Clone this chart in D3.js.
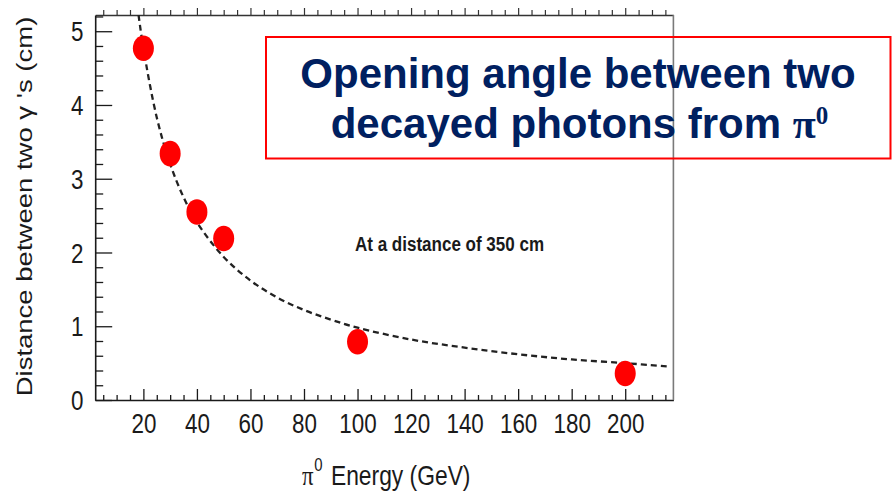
<!DOCTYPE html>
<html>
<head>
<meta charset="utf-8">
<script src="https://cdn.jsdelivr.net/npm/d3@7"></script>
<style>
  html, body { margin: 0; padding: 0; background: #fff; }
  svg { display: block; font-family: "Liberation Sans", Arial, sans-serif; }
</style>
</head>
<body>
<svg id="chart" width="895" height="491"></svg>
<script>
// Measured pi0 photon separations at 350 cm
const energies = [20, 30, 40, 50, 100, 200];
const distances = [4.77, 3.34, 2.55, 2.19, 0.79, 0.36];

// Fitted curve, sampled along the energy range
const fitEnergy = [18.2, 20, 25, 30, 35, 40, 50, 60, 70, 80, 90, 100, 120, 140, 160, 180, 200, 215.5];
const fitDistance = [5.22, 4.77, 3.83, 3.20, 2.75, 2.41, 1.94, 1.62, 1.39, 1.22, 1.09, 0.98, 0.82, 0.71, 0.62, 0.55, 0.50, 0.455];

// Axis ticks
const xMajorTicks = [20, 40, 60, 80, 100, 120, 140, 160, 180, 200];
const xMinorTicks = [5, 10, 15, 25, 30, 35, 45, 50, 55, 65, 70, 75, 85, 90, 95, 105, 110, 115, 125, 130, 135, 145, 150, 155, 165, 170, 175, 185, 190, 195, 205, 210, 215];
const yMajorTicks = [0, 1, 2, 3, 4, 5];
const yMinorTicks = [0.2, 0.4, 0.6, 0.8, 1.2, 1.4, 1.6, 1.8, 2.2, 2.4, 2.6, 2.8, 3.2, 3.4, 3.6, 3.8, 4.2, 4.4, 4.6, 4.8, 5.2];

const titleLine1 = "Opening angle between two";
const titleLine2 = "decayed photons from ";
const noteText = "At a distance of 350 cm";
const yTitle = "Distance between two \u03b3 's (cm)";
const xTitle = "Energy (GeV)";

const svg = d3.select("#chart");
const squeeze = 0.83; // horizontal squeeze applied to chart lettering

const x = d3.scaleLinear().domain([2, 218]).range([95.2, 673.4]);
const y = d3.scaleLinear().domain([0, 5.22]).range([400, 15]);

const ink = "#1a1a1a";

// Bottom axis: minor ticks
svg.append("g")
  .attr("transform", `translate(0,${y(0)})`)
  .call(d3.axisBottom(x).tickValues(xMinorTicks).tickSizeInner(-5).tickSizeOuter(0).tickFormat(""))
  .call(g => g.select(".domain").remove())
  .call(g => g.selectAll("line").attr("stroke", ink).attr("stroke-width", 1.3));

// Bottom axis: major ticks and labels
svg.append("g")
  .attr("transform", `translate(0,${y(0)})`)
  .call(d3.axisBottom(x).tickValues(xMajorTicks).tickSizeInner(-11).tickSizeOuter(0).tickPadding(14).tickFormat(d3.format("d")))
  .call(g => g.select(".domain").attr("stroke", ink).attr("stroke-width", 1.6))
  .call(g => g.selectAll("line").attr("stroke", ink).attr("stroke-width", 1.3))
  .call(g => g.selectAll("text")
    .attr("fill", ink)
    .attr("font-size", 27)
    .attr("font-family", "'Liberation Sans', Arial, sans-serif")
    .attr("transform", `scale(${squeeze},1)`));

// Top axis: ticks only, pointing outward
svg.append("g")
  .attr("transform", `translate(0,${y(5.22)})`)
  .call(d3.axisTop(x).tickValues(xMinorTicks).tickSizeInner(5).tickSizeOuter(0).tickFormat(""))
  .call(g => g.select(".domain").attr("stroke", "#333").attr("stroke-width", 1.4))
  .call(g => g.selectAll("line").attr("stroke", "#333").attr("stroke-width", 1.2));
svg.append("g")
  .attr("transform", `translate(0,${y(5.22)})`)
  .call(d3.axisTop(x).tickValues(xMajorTicks).tickSizeInner(7).tickSizeOuter(0).tickFormat(""))
  .call(g => g.select(".domain").remove())
  .call(g => g.selectAll("line").attr("stroke", "#333").attr("stroke-width", 1.2));

// Left axis: minor ticks
svg.append("g")
  .attr("transform", `translate(${x(2)},0)`)
  .call(d3.axisLeft(y).tickValues(yMinorTicks).tickSizeInner(-8).tickSizeOuter(0).tickFormat(""))
  .call(g => g.select(".domain").remove())
  .call(g => g.selectAll("line").attr("stroke", ink).attr("stroke-width", 1.3));

// Left axis: major ticks and labels
svg.append("g")
  .attr("transform", `translate(${x(2)},0)`)
  .call(d3.axisLeft(y).tickValues(yMajorTicks).tickSizeInner(-17).tickSizeOuter(0).tickPadding(14).tickFormat(d3.format("d")))
  .call(g => g.select(".domain").attr("stroke", ink).attr("stroke-width", 1.6))
  .call(g => g.selectAll("line").attr("stroke", ink).attr("stroke-width", 1.3))
  .call(g => g.selectAll("text")
    .attr("fill", ink)
    .attr("font-size", 27)
    .attr("dy", "0.36em")
    .attr("font-family", "'Liberation Sans', Arial, sans-serif")
    .attr("transform", `scale(${squeeze},1)`));

// Right frame edge
svg.append("line")
  .attr("x1", x(218)).attr("x2", x(218))
  .attr("y1", y(5.22)).attr("y2", y(0))
  .attr("stroke", "#7a7a7a").attr("stroke-width", 1.6);

// Clip for the fit curve
svg.append("clipPath").attr("id", "frame")
  .append("rect")
  .attr("x", x(2)).attr("y", y(5.22))
  .attr("width", x(218) - x(2)).attr("height", y(0) - y(5.22));

const fitPoints = fitEnergy.map((e, i) => [e, fitDistance[i]]);
svg.append("path")
  .datum(fitPoints)
  .attr("clip-path", "url(#frame)")
  .attr("fill", "none")
  .attr("stroke", "#222")
  .attr("stroke-width", 2.3)
  .attr("stroke-dasharray", "6,4")
  .attr("d", d3.line().x(d => x(d[0])).y(d => y(d[1])).curve(d3.curveCatmullRom));

// Data points
const pts = energies.map((e, i) => ({ e, d: distances[i] }));
svg.append("g").selectAll("ellipse")
  .data(pts)
  .join("ellipse")
  .attr("cx", d => x(d.e))
  .attr("cy", d => y(d.d))
  .attr("rx", 10.5)
  .attr("ry", 12.8)
  .attr("fill", "#ff0000");

// Annotation
svg.append("text")
  .attr("transform", `translate(355,250.5) scale(${squeeze},1)`)
  .attr("font-size", 20.5)
  .attr("font-weight", "bold")
  .attr("fill", ink)
  .text(noteText);

// Y axis title
svg.append("text")
  .attr("transform", `translate(32,206.5) scale(${squeeze},1) rotate(-90)`)
  .attr("text-anchor", "middle")
  .attr("font-size", 27.5)
  .attr("fill", ink)
  .text(yTitle);

// X axis title
const xt = svg.append("text")
  .attr("transform", `translate(302,485) scale(${squeeze},1)`)
  .attr("font-size", 27.5)
  .attr("fill", ink);
xt.append("tspan").attr("font-family", "'Liberation Serif', 'Times New Roman', serif").text("\u03c0");
xt.append("tspan").attr("font-size", 18).attr("dy", -14).attr("dx", 1).text("0");
xt.append("tspan").attr("dy", 14).attr("dx", 10).text(xTitle);

// Title box
svg.append("rect")
  .attr("x", 266).attr("y", 37)
  .attr("width", 624.5).attr("height", 121.5)
  .attr("fill", "none")
  .attr("stroke", "#ff0000")
  .attr("stroke-width", 2);

const navy = "#002060";
svg.append("text")
  .attr("x", 578).attr("y", 88)
  .attr("text-anchor", "middle")
  .attr("font-size", 42)
  .attr("font-weight", "bold")
  .attr("fill", navy)
  .text(titleLine1);

const t2 = svg.append("text")
  .attr("x", 579.5).attr("y", 138)
  .attr("text-anchor", "middle")
  .attr("font-size", 42)
  .attr("font-weight", "bold")
  .attr("fill", navy);
t2.append("tspan").text(titleLine2);
t2.append("tspan").attr("font-family", "'Liberation Serif', 'Times New Roman', serif").text("\u03c0");
t2.append("tspan").attr("font-family", "'Liberation Serif', 'Times New Roman', serif")
  .attr("font-size", 25).attr("dy", -14).text("0");
</script>
</body>
</html>
